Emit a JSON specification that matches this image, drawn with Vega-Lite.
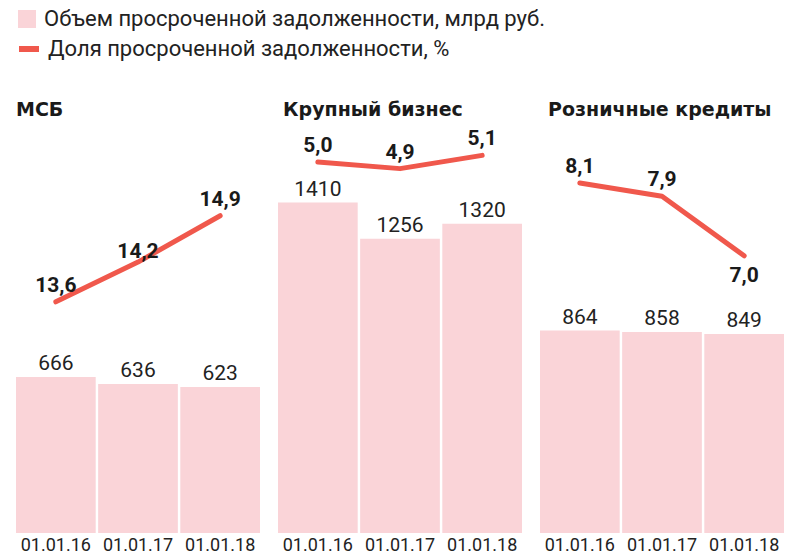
{
  "$schema": "https://vega.github.io/schema/vega-lite/v6.json",
  "background": "white",
  "padding": {"left": 16, "top": 8, "right": 5, "bottom": 0},
  "data": {"values": [
    {"segment": "МСБ", "date": "01.01.16", "volume": 666, "share": 13.6},
    {"segment": "МСБ", "date": "01.01.17", "volume": 636, "share": 14.2},
    {"segment": "МСБ", "date": "01.01.18", "volume": 623, "share": 14.9},
    {"segment": "Крупный бизнес", "date": "01.01.16", "volume": 1410, "share": 5.0},
    {"segment": "Крупный бизнес", "date": "01.01.17", "volume": 1256, "share": 4.9},
    {"segment": "Крупный бизнес", "date": "01.01.18", "volume": 1320, "share": 5.1},
    {"segment": "Розничные кредиты", "date": "01.01.16", "volume": 864, "share": 8.1},
    {"segment": "Розничные кредиты", "date": "01.01.17", "volume": 858, "share": 7.9},
    {"segment": "Розничные кредиты", "date": "01.01.18", "volume": 849, "share": 7.0}
  ]},
  "spacing": 18,
  "hconcat": [
    {
      "width": 244, "height": 408,
      "title": {"text": "МСБ"},
      "transform": [{"filter": "datum.segment === 'МСБ'"}],
      "encoding": {"x": {"field": "date", "type": "ordinal", "sort": null, "scale": {"paddingInner": 0.03, "paddingOuter": 0}, "axis": {"title": null, "labelAngle": 0, "ticks": false, "domain": false, "labelPadding": 3, "labelFontSize": 18, "labelColor": "#222222", "labelFont": "Roboto"}}},
      "layer": [
        {"mark": {"type": "bar"}, "encoding": {
          "y": {"field": "volume", "type": "quantitative", "scale": {"domain": [0, 1741], "nice": false}, "axis": null},
          "fill": {"datum": "Объем просроченной задолженности, млрд руб.", "scale": {"range": ["#FAD4D8"]}, "legend": {"orient": "none", "legendX": 0, "legendY": -117, "title": null, "symbolType": "square", "symbolSize": 324, "symbolStrokeWidth": 0, "labelFontSize": 22, "labelLimit": 0, "labelColor": "#222222", "labelFont": "Roboto", "labelOffset": 6}}
        }},
        {"mark": {"type": "text", "baseline": "alphabetic", "dy": -7, "fontSize": 21, "color": "#222222", "font": "Roboto"}, "encoding": {
          "y": {"field": "volume", "type": "quantitative", "scale": {"domain": [0, 1741], "nice": false}, "axis": null},
          "text": {"field": "volume", "type": "quantitative", "format": ".0f"}
        }},
        {"mark": {"type": "line", "strokeWidth": 5, "strokeCap": "round", "strokeJoin": "round"}, "encoding": {
          "y": {"field": "share", "type": "quantitative", "scale": {"domain": [10.11, 16.27], "nice": false, "zero": false}, "axis": null},
          "stroke": {"datum": "Доля  просроченной задолженности, %", "scale": {"range": ["#F0584C"]}, "legend": {"orient": "none", "legendX": 0, "legendY": -89, "title": null, "symbolType": "stroke", "symbolSize": 400, "symbolStrokeWidth": 6, "labelFontSize": 22, "labelLimit": 0, "labelColor": "#222222", "labelFont": "Roboto", "labelOffset": 6}}
        }},
        {"transform": [{"filter": "datum.share !== 14.2"}], "mark": {"type": "text", "baseline": "alphabetic", "dy": -10, "fontSize": 21, "fontWeight": "bold", "color": "#1a1a1a", "font": "Roboto"}, "encoding": {
          "y": {"field": "share", "type": "quantitative", "scale": {"domain": [10.11, 16.27], "nice": false, "zero": false}, "axis": null},
          "text": {"field": "share", "type": "quantitative", "format": ".1f"}
        }},
        {"transform": [{"filter": "datum.share === 14.2"}], "mark": {"type": "text", "baseline": "alphabetic", "dy": -4, "fontSize": 21, "fontWeight": "bold", "color": "#1a1a1a", "font": "Roboto"}, "encoding": {
          "y": {"field": "share", "type": "quantitative", "scale": {"domain": [10.11, 16.27], "nice": false, "zero": false}, "axis": null},
          "text": {"field": "share", "type": "quantitative", "format": ".1f"}
        }}
      ],
      "resolve": {"scale": {"y": "independent"}}
    },
    {
      "width": 244, "height": 408,
      "title": {"text": "Крупный бизнес", "dx": 5},
      "transform": [{"filter": "datum.segment === 'Крупный бизнес'"}],
      "encoding": {"x": {"field": "date", "type": "ordinal", "sort": null, "scale": {"paddingInner": 0.03, "paddingOuter": 0}, "axis": {"title": null, "labelAngle": 0, "ticks": false, "domain": false, "labelPadding": 3, "labelFontSize": 18, "labelColor": "#222222", "labelFont": "Roboto"}}},
      "layer": [
        {"mark": {"type": "bar"}, "encoding": {
          "y": {"field": "volume", "type": "quantitative", "scale": {"domain": [0, 1741], "nice": false}, "axis": null},
          "fill": {"datum": "Объем просроченной задолженности, млрд руб."}
        }},
        {"mark": {"type": "text", "baseline": "alphabetic", "dy": -7, "fontSize": 21, "color": "#222222", "font": "Roboto"}, "encoding": {
          "y": {"field": "volume", "type": "quantitative", "scale": {"domain": [0, 1741], "nice": false}, "axis": null},
          "text": {"field": "volume", "type": "quantitative", "format": ".0f"}
        }},
        {"mark": {"type": "line", "strokeWidth": 5, "strokeCap": "round", "strokeJoin": "round"}, "encoding": {
          "y": {"field": "share", "type": "quantitative", "scale": {"domain": [-0.604, 5.559], "nice": false, "zero": false}, "axis": null},
          "stroke": {"datum": "Доля  просроченной задолженности, %"}
        }},
        {"mark": {"type": "text", "baseline": "alphabetic", "dy": -10, "fontSize": 21, "fontWeight": "bold", "color": "#1a1a1a", "font": "Roboto"}, "encoding": {
          "y": {"field": "share", "type": "quantitative", "scale": {"domain": [-0.604, 5.559], "nice": false, "zero": false}, "axis": null},
          "text": {"field": "share", "type": "quantitative", "format": ".1f"}
        }}
      ],
      "resolve": {"scale": {"y": "independent"}}
    },
    {
      "width": 244, "height": 408,
      "title": {"text": "Розничные кредиты", "dx": 8},
      "transform": [{"filter": "datum.segment === 'Розничные кредиты'"}],
      "encoding": {"x": {"field": "date", "type": "ordinal", "sort": null, "scale": {"paddingInner": 0.03, "paddingOuter": 0}, "axis": {"title": null, "labelAngle": 0, "ticks": false, "domain": false, "labelPadding": 3, "labelFontSize": 18, "labelColor": "#222222", "labelFont": "Roboto"}}},
      "layer": [
        {"mark": {"type": "bar"}, "encoding": {
          "y": {"field": "volume", "type": "quantitative", "scale": {"domain": [0, 1741], "nice": false}, "axis": null},
          "fill": {"datum": "Объем просроченной задолженности, млрд руб."}
        }},
        {"mark": {"type": "text", "baseline": "alphabetic", "dy": -7, "fontSize": 21, "color": "#222222", "font": "Roboto"}, "encoding": {
          "y": {"field": "volume", "type": "quantitative", "scale": {"domain": [0, 1741], "nice": false}, "axis": null},
          "text": {"field": "volume", "type": "quantitative", "format": ".0f"}
        }},
        {"mark": {"type": "line", "strokeWidth": 5, "strokeCap": "round", "strokeJoin": "round"}, "encoding": {
          "y": {"field": "share", "type": "quantitative", "scale": {"domain": [2.813, 8.976], "nice": false, "zero": false}, "axis": null},
          "stroke": {"datum": "Доля  просроченной задолженности, %"}
        }},
        {"transform": [{"filter": "datum.share !== 7.0"}], "mark": {"type": "text", "baseline": "alphabetic", "dy": -10, "fontSize": 21, "fontWeight": "bold", "color": "#1a1a1a", "font": "Roboto"}, "encoding": {
          "y": {"field": "share", "type": "quantitative", "scale": {"domain": [2.813, 8.976], "nice": false, "zero": false}, "axis": null},
          "text": {"field": "share", "type": "quantitative", "format": ".1f"}
        }},
        {"transform": [{"filter": "datum.share === 7.0"}], "mark": {"type": "text", "baseline": "alphabetic", "dy": 26, "fontSize": 21, "fontWeight": "bold", "color": "#1a1a1a", "font": "Roboto"}, "encoding": {
          "y": {"field": "share", "type": "quantitative", "scale": {"domain": [2.813, 8.976], "nice": false, "zero": false}, "axis": null},
          "text": {"field": "share", "type": "quantitative", "format": ".1f"}
        }}
      ],
      "resolve": {"scale": {"y": "independent"}}
    }
  ],
  "config": {
    "locale": {"number": {"decimal": ",", "thousands": "", "grouping": [3], "currency": ["", ""]}},
    "view": {"stroke": null},
    "title": {"anchor": "start", "fontSize": 19, "fontWeight": "bold", "font": "DejaVu Sans", "color": "#1a1a1a", "offset": 5},
    "legend": {"padding": 0}
  }
}
